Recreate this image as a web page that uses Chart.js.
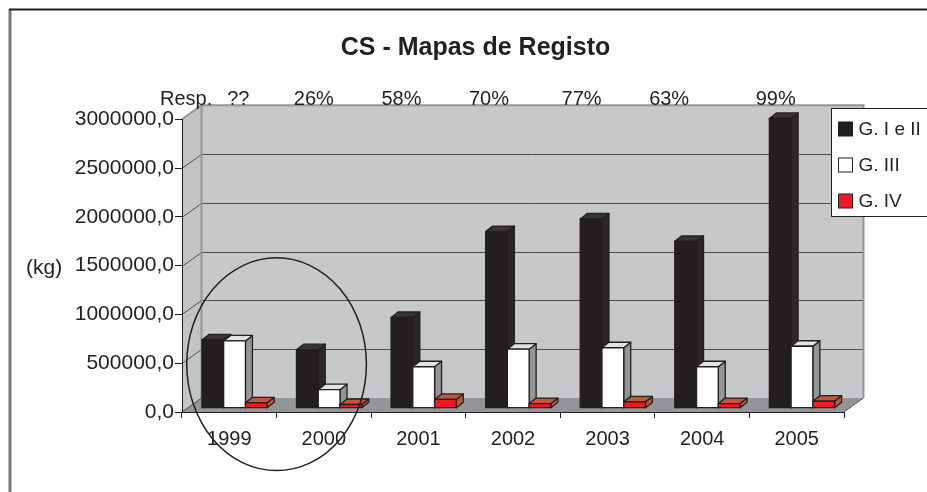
<!DOCTYPE html>
<html>
<head>
<meta charset="utf-8">
<script src="https://cdn.jsdelivr.net/npm/chart.js@4.4.1/dist/chart.umd.min.js"></script>
<style>
  html, body { margin: 0; padding: 0; background: #fff; }
  #wrap { width: 927px; height: 492px; }
</style>
</head>
<body>
<div id="wrap"><canvas id="chart"></canvas></div>
<script>
// CHART DATA
const years = ["1999", "2000", "2001", "2002", "2003", "2004", "2005"];
const g_i_ii = [700000, 600000, 930000, 1810000, 1940000, 1710000, 2970000];
const g_iii = [690000, 190000, 425000, 605000, 620000, 425000, 635000];
const g_iv = [55000, 38000, 90000, 48000, 65000, 48000, 72000];
const resp_values = ["??", "26%", "58%", "70%", "77%", "63%", "99%"];
const series_names = ["G. I e II", "G. III", "G. IV"];

// LOOK
const FONT = '"Liberation Sans", Arial, sans-serif';
const INK = "#231f20";
const WALL_DX = 19.5, WALL_DY = -14; // depth of the 3d box
const BAR_POS = 0.27; // bars stand a little behind the front edge
const BAR_DX = 7, BAR_DY = -5.5; // depth of each bar
const faces = [
  { front: "#231f20", top: "#383435", side: "#2b2728" },
  { front: "#ffffff", top: "#e2e3e4", side: "#949597" },
  { front: "#ed1c24", top: "#c4553a", side: "#b45c3c" },
];
// the "Resp." text boxes were placed by hand, not on the category centres
const resp_shift = [9, -10, -17, -24, -26, -33, -21];

function poly(ctx, pts) {
  ctx.beginPath();
  ctx.moveTo(pts[0][0], pts[0][1]);
  for (let i = 1; i < pts.length; i++) ctx.lineTo(pts[i][0], pts[i][1]);
  ctx.closePath();
}

const box3d = {
  id: "box3d",
  beforeDraw(chart) {
    const { ctx, chartArea: a, scales } = chart;
    const ys = scales.y;
    ctx.save();

    // outer frame
    ctx.strokeStyle = "#7a7a7a";
    ctx.lineWidth = 3;
    ctx.beginPath();
    ctx.moveTo(10, 9);
    ctx.lineTo(10, 492);
    ctx.stroke();
    ctx.strokeStyle = INK;
    ctx.lineWidth = 2;
    ctx.beginPath();
    ctx.moveTo(9, 9.5);
    ctx.lineTo(927, 9.5);
    ctx.stroke();

    // side wall
    ctx.fillStyle = "#c3c4c6";
    poly(ctx, [[a.left, a.top], [a.left + WALL_DX, a.top + WALL_DY],
      [a.left + WALL_DX, a.bottom + WALL_DY], [a.left, a.bottom]]);
    ctx.fill();
    // back wall
    ctx.fillStyle = "#c7c8ca";
    ctx.fillRect(a.left + WALL_DX, a.top + WALL_DY, a.right - a.left, a.bottom - a.top);
    // floor
    ctx.fillStyle = "#939598";
    poly(ctx, [[a.left, a.bottom], [a.right, a.bottom],
      [a.right + WALL_DX, a.bottom + WALL_DY], [a.left + WALL_DX, a.bottom + WALL_DY]]);
    ctx.fill();

    // grid lines on side and back wall
    ctx.strokeStyle = "#4d4e50";
    ctx.lineWidth = 1;
    ys.ticks.forEach((t) => {
      if (t.value <= ys.min || t.value >= ys.max) return;
      const py = Math.round(ys.getPixelForValue(t.value)) + 0.5;
      ctx.beginPath();
      ctx.moveTo(a.left, py);
      ctx.lineTo(a.left + WALL_DX, py + WALL_DY);
      ctx.lineTo(a.right + WALL_DX, py + WALL_DY);
      ctx.stroke();
    });
    ctx.beginPath();
    ctx.moveTo(a.left, ys.getPixelForValue(0));
    ctx.lineTo(a.left + WALL_DX, ys.getPixelForValue(0) + WALL_DY);
    ctx.stroke();

    // wall edges
    ctx.strokeStyle = "#939598";
    ctx.lineWidth = 2;
    ctx.beginPath();
    ctx.moveTo(a.left, a.top);
    ctx.lineTo(a.left + WALL_DX, a.top + WALL_DY);
    ctx.lineTo(a.right + WALL_DX, a.top + WALL_DY);
    ctx.lineTo(a.right + WALL_DX, a.bottom + WALL_DY);
    ctx.moveTo(a.left + WALL_DX, a.top + WALL_DY);
    ctx.lineTo(a.left + WALL_DX, a.bottom + WALL_DY);
    ctx.stroke();
    ctx.strokeStyle = "#58595b";
    ctx.lineWidth = 1;
    ctx.beginPath();
    ctx.moveTo(a.right, a.bottom);
    ctx.lineTo(a.right + WALL_DX, a.bottom + WALL_DY);
    ctx.stroke();
    ctx.restore();
  },

  beforeDatasetsDraw(chart) {
    const ctx = chart.ctx;
    const sx = BAR_POS * WALL_DX, sy = BAR_POS * WALL_DY;
    ctx.save();
    ctx.strokeStyle = INK;
    ctx.lineWidth = 1.3;
    ctx.lineJoin = "round";
    for (let j = 0; j < years.length; j++) {
      chart.data.datasets.forEach((ds, i) => {
        const el = chart.getDatasetMeta(i).data[j];
        const p = el.getProps(["x", "y", "base", "width"], true);
        const x0 = p.x - p.width / 2 + sx, x1 = p.x + p.width / 2 + sx;
        const top = p.y + sy, bot = p.base + sy;
        const f = faces[i];
        // side
        ctx.fillStyle = f.side;
        poly(ctx, [[x1, top], [x1 + BAR_DX, top + BAR_DY], [x1 + BAR_DX, bot + BAR_DY], [x1, bot]]);
        ctx.fill();
        ctx.stroke();
        // top
        ctx.fillStyle = f.top;
        poly(ctx, [[x0, top], [x0 + BAR_DX, top + BAR_DY], [x1 + BAR_DX, top + BAR_DY], [x1, top]]);
        ctx.fill();
        ctx.stroke();
        // front
        ctx.fillStyle = f.front;
        ctx.fillRect(x0, top, x1 - x0, bot - top);
        ctx.strokeRect(x0, top, x1 - x0, bot - top);
      });
    }
    ctx.restore();
    return false;
  },

  afterDraw(chart) {
    const { ctx, chartArea: a, scales } = chart;
    const xs = scales.x, ys = scales.y;
    ctx.save();
    ctx.fillStyle = INK;

    // title
    ctx.font = "bold 25px " + FONT;
    ctx.textAlign = "center";
    ctx.textBaseline = "middle";
    ctx.fillText("CS - Mapas de Registo", 475.5, 48);

    // response rates
    ctx.font = "20px " + FONT;
    ctx.textBaseline = "alphabetic";
    ctx.textAlign = "left";
    ctx.fillText("Resp.", a.left - 22, 105);
    ctx.textAlign = "center";
    resp_values.forEach((r, j) => {
      ctx.fillText(r, xs.getPixelForValue(j) + resp_shift[j], 105);
    });

    // unit
    ctx.font = "21px " + FONT;
    ctx.textAlign = "left";
    ctx.textBaseline = "middle";
    ctx.fillText("(kg)", 26, 268);

    // legend
    const lx = 831.5, ly = 108.5;
    ctx.fillStyle = "#fff";
    ctx.fillRect(lx, ly, 100, 108);
    ctx.strokeStyle = INK;
    ctx.lineWidth = 1;
    ctx.strokeRect(lx, ly, 100, 108);
    ctx.font = "19px " + FONT;
    chart.data.datasets.forEach((ds, i) => {
      const cy = ly + 20.5 + i * 36;
      ctx.fillStyle = faces[i].front;
      ctx.fillRect(lx + 7, cy - 7, 14, 14);
      ctx.strokeRect(lx + 7, cy - 7, 14, 14);
      ctx.fillStyle = INK;
      ctx.fillText(ds.label, lx + 27, cy + 1);
    });

    // hand drawn ellipse around 1999 and 2000
    const cx = xs.getPixelForValue(0.5);
    const cy = ys.getPixelForValue(490000);
    const rx = (xs.getPixelForValue(1) - xs.getPixelForValue(0)) * 0.95;
    const ry = ys.getPixelForValue(0) - ys.getPixelForValue(1090000);
    ctx.strokeStyle = INK;
    ctx.lineWidth = 1.5;
    ctx.beginPath();
    ctx.ellipse(cx, cy, rx, ry, 0, 0, Math.PI * 2);
    ctx.stroke();
    ctx.restore();
  },
};

const ctx = document.getElementById("chart").getContext("2d");

new Chart(ctx, {
  type: "bar",
  data: {
    labels: years,
    datasets: [
      { label: series_names[0], data: g_i_ii, backgroundColor: faces[0].front },
      { label: series_names[1], data: g_iii, backgroundColor: faces[1].front },
      { label: series_names[2], data: g_iv, backgroundColor: faces[2].front },
    ],
  },
  options: {
    responsive: true,
    maintainAspectRatio: false,
    animation: false,
    datasets: { bar: { categoryPercentage: 0.69, barPercentage: 1 } },
    layout: { padding: { top: 119.3, right: 83, bottom: 20, left: 0 } },
    plugins: {
      legend: { display: false },
      title: { display: false },
      tooltip: { enabled: false },
    },
    scales: {
      x: {
        offset: true,
        grid: { offset: true, drawOnChartArea: false, drawTicks: true, tickLength: 6, color: INK },
        border: { display: true, color: INK, width: 1 },
        ticks: { color: INK, font: { family: FONT, size: 20 }, padding: 9, maxRotation: 0 },
        afterFit: (scale) => { scale.height = 60; },
      },
      y: {
        min: 0,
        max: 3000000,
        grid: { drawOnChartArea: false, drawTicks: true, tickLength: 7, color: INK },
        border: { display: true, color: INK, width: 1 },
        ticks: {
          stepSize: 500000,
          color: INK,
          padding: 1,
          font: { family: FONT, size: 21 },
          callback: (v) => v.toFixed(1).replace(".", ","),
        },
        afterFit: (scale) => { scale.width = 182; },
      },
    },
  },
  plugins: [box3d],
});
</script>
</body>
</html>
